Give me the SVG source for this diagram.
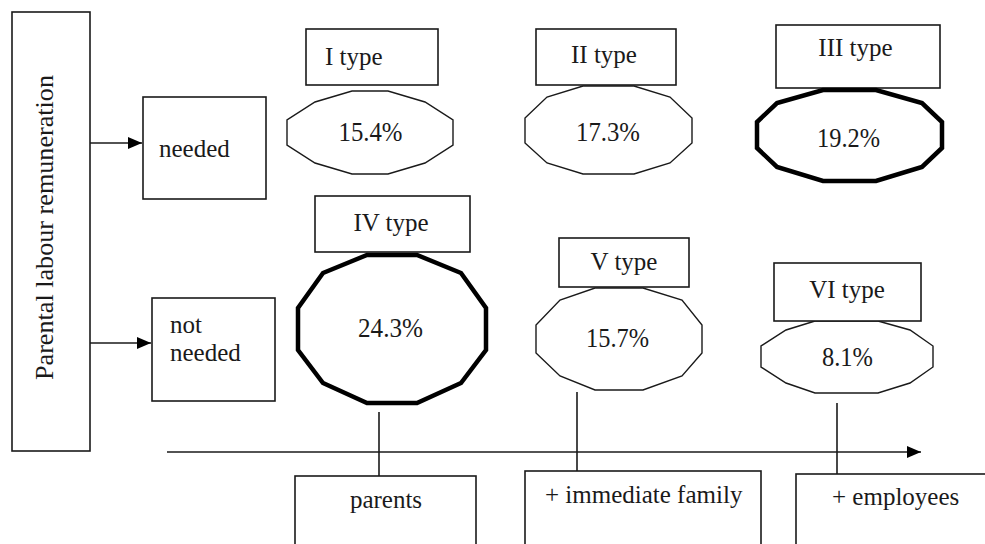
<svg xmlns="http://www.w3.org/2000/svg" width="985" height="544" viewBox="0 0 985 544">
<style>
.box{fill:#fff;stroke:#1a1a1a;stroke-width:1.6}
.poly{fill:#fff;stroke:#1a1a1a;stroke-width:1.4;stroke-linejoin:miter}
.thick{fill:#fff;stroke:#000;stroke-width:4.5;stroke-linejoin:miter}
text{font-family:'Liberation Serif','DejaVu Serif',serif;fill:#1a1a1a}
.t{font-size:25px}
.p{font-size:28px;text-anchor:middle}
.m{text-anchor:middle}
.ln{stroke:#1a1a1a;stroke-width:1.6;fill:none}
</style>
<defs>
<marker id="ah" markerWidth="14" markerHeight="12" refX="14" refY="6" orient="auto" markerUnits="userSpaceOnUse">
<path d="M0,0 L14,6 L0,12 z" fill="#000"/>
</marker>
</defs>
<rect width="985" height="544" fill="#fff"/>
<g id="connectors">
<line class="ln" x1="90" y1="143" x2="142" y2="143" marker-end="url(#ah)"/>
<line class="ln" x1="90" y1="343" x2="151" y2="343" marker-end="url(#ah)"/>
<line class="ln" x1="167" y1="452" x2="921" y2="452" marker-end="url(#ah)"/>
<line class="ln" x1="379" y1="412" x2="379" y2="476"/>
<line class="ln" x1="577" y1="392" x2="577" y2="471"/>
<line class="ln" x1="837" y1="403" x2="837" y2="474"/>
</g>
<g id="main">
<rect class="box" x="12" y="12" width="78" height="439"/>
<text class="t" transform="translate(53,380) rotate(-90)" font-family="Liberation Serif, serif" font-size="26" textLength="305" lengthAdjust="spacingAndGlyphs">Parental labour remuneration</text>
</g>
<g id="needed">
<rect class="box" x="143" y="97" width="123" height="102"/>
<text class="t" x="159" y="157" font-family="Liberation Serif, serif">needed</text>
</g>
<g id="notneeded">
<rect class="box" x="152" y="298" width="123" height="103"/>
<text class="t" x="170" y="333" font-family="Liberation Serif, serif">not</text>
<text class="t" x="170" y="361" font-family="Liberation Serif, serif">needed</text>
</g>
<g id="type1">
<rect class="box" x="306" y="29" width="132" height="56"/>
<text class="t" x="325" y="65" font-family="Liberation Serif, serif">I type</text>
<polygon class="poly" points="352,91 388,91 425,102 453,120 453,145 425,163 388,174 352,174 315,163 287,145 287,120 315,102"/>
<text class="p" x="370.5" y="141" font-family="Liberation Serif, serif" textLength="64" lengthAdjust="spacingAndGlyphs">15.4%</text>
</g>
<g id="type2">
<polygon class="poly" points="583,86 634,86 670,97 692,118 692,143 670,163 634,174 583,174 547,163 525,143 525,118 547,97"/>
<rect class="box" x="536" y="29" width="140" height="56"/>
<text class="t m" x="604" y="63" font-family="Liberation Serif, serif">II type</text>
<text class="p" x="608" y="141" font-family="Liberation Serif, serif" textLength="64" lengthAdjust="spacingAndGlyphs">17.3%</text>
</g>
<g id="type3">
<rect class="box" x="776" y="25" width="164" height="63"/>
<text class="t m" x="855.5" y="56" font-family="Liberation Serif, serif">III type</text>
<polygon class="thick" points="823,90 876,90 922,103 942,122 942,148 922,167 876,181 823,181 777,167 757,148 757,122 777,103"/>
<text class="p" x="848.5" y="147" font-family="Liberation Serif, serif" textLength="63" lengthAdjust="spacingAndGlyphs">19.2%</text>
</g>
<g id="type4">
<rect class="box" x="315" y="196" width="155" height="56"/>
<text class="t m" x="391" y="231" font-family="Liberation Serif, serif">IV type</text>
<polygon class="thick" points="367,255 417,255 461,273 486,308 486,350 461,383 417,403 367,403 323,383 298,350 298,308 323,273"/>
<text class="p" x="390.5" y="337" font-family="Liberation Serif, serif" textLength="65" lengthAdjust="spacingAndGlyphs">24.3%</text>
</g>
<g id="type5">
<polygon class="poly" points="595,288 643,288 682,300 702,325 702,353 682,376 643,390 595,390 560,376 536,353 536,325 560,300"/>
<rect class="box" x="559" y="238" width="130" height="49"/>
<text class="t m" x="624" y="270" font-family="Liberation Serif, serif">V type</text>
<text class="p" x="617.5" y="347" font-family="Liberation Serif, serif" textLength="63" lengthAdjust="spacingAndGlyphs">15.7%</text>
</g>
<g id="type6">
<polygon class="poly" points="815,321 878,321 910,330 933,346 933,367 910,383 878,393 815,393 786,383 761,367 761,346 786,330"/>
<rect class="box" x="774" y="263" width="147" height="58"/>
<text class="t m" x="847" y="298" font-family="Liberation Serif, serif">VI type</text>
<text class="p" x="847.5" y="366" font-family="Liberation Serif, serif" textLength="51" lengthAdjust="spacingAndGlyphs">8.1%</text>
</g>
<g id="parents">
<rect class="box" x="295" y="476" width="181" height="90"/>
<text class="t m" x="386" y="508" font-family="Liberation Serif, serif">parents</text>
</g>
<g id="family">
<rect class="box" x="525" y="471" width="236" height="95"/>
<text class="t" x="545" y="503" font-family="Liberation Serif, serif">+ immediate family</text>
</g>
<g id="employees">
<rect class="box" x="796" y="474" width="210" height="92"/>
<text class="t" x="832" y="505" font-family="Liberation Serif, serif">+ employees</text>
</g>
</svg>
